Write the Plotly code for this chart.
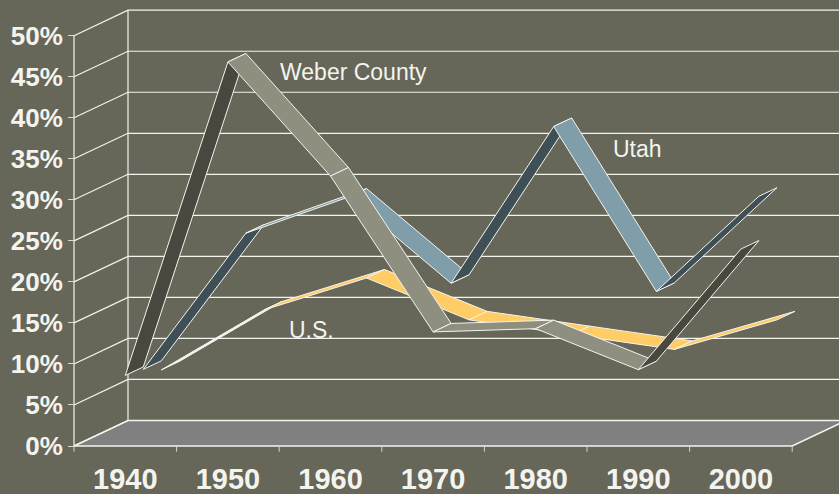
import plotly.graph_objects as go

years = ["1940", "1950", "1960", "1970", "1980", "1990", "2000"]
weber = [8.6, 46.8, 32.9, 13.9, 14.3, 9.3, 24.0]
utah = [8.3, 24.9, 29.3, 18.8, 37.9, 17.8, 29.4]
us = [7.2, 14.5, 18.4, 13.3, 11.5, 9.7, 13.3]
pct_ticks = [0, 5, 10, 15, 20, 25, 30, 35, 40, 45, 50]

W, H = 839, 494
CAT_PX = 102.6
PCT_PX = 8.206
FRONT_X = 74.0
FRONT_Y = 446.0
STEP_X = 18.0 / CAT_PX      # one series of depth, in category units
STEP_Y = 8.5 / PCT_PX       # one series of depth, in percent units
BG = "#666659"
EDGE = "#f4f4ee"


def poly(xs, ys, fill=None, color=EDGE, width=1):
    return go.Scatter(
        x=xs, y=ys, mode="lines", hoverinfo="skip", showlegend=False,
        line=dict(color=color, width=width),
        fill="toself" if fill else None, fillcolor=fill,
    )


def depth(c, v, z):
    return c + z * STEP_X, v + z * STEP_Y


fig = go.Figure()
left, right = -0.5, len(years) - 0.5
back = 3

# floor
fx, fy = zip(*[depth(left, 0, 0), depth(left, 0, back), depth(right, 0, back), depth(right, 0, 0)])
fig.add_trace(poly(list(fx) + [fx[0]], list(fy) + [fy[0]], fill="#808080", width=1.5))

# walls: gridlines
for t in pct_ticks:
    a = depth(left, t, 0)
    b = depth(left, t, back)
    c = depth(right, t, back)
    fig.add_trace(poly([a[0], b[0], c[0]], [a[1], b[1], c[1]], color=EDGE, width=1.2))
# wall verticals
a, b = depth(left, 0, back), depth(left, pct_ticks[-1], back)
fig.add_trace(poly([a[0], b[0]], [a[1], b[1]], width=1.2))
fig.add_trace(poly([left, left], [0, pct_ticks[-1]], width=1.2))
# category tick marks
for i in range(len(years) + 1):
    fig.add_trace(poly([left + i, left + i], [0, -0.7], width=1, color="#d8d8d0"))

# ribbons, back series first, each drawn left to right
series = [
    (us, 2, "#ffcc66", EDGE),
    (utah, 1, "#7f9ea9", "#3f4f56"),
    (weber, 0, "#8f8f80", "#48483f"),
]
for values, z, light, dark in series:
    for i in range(len(values) - 1):
        x0, y0 = depth(i, values[i], z)
        x1, y1 = depth(i, values[i], z + 1)
        x2, y2 = depth(i + 1, values[i + 1], z + 1)
        x3, y3 = depth(i + 1, values[i + 1], z)
        run_px = (x3 - x0) * CAT_PX
        rise_px = (y3 - y0) * PCT_PX
        under = rise_px / run_px > (STEP_Y * PCT_PX) / (STEP_X * CAT_PX)
        fig.add_trace(poly([x0, x1, x2, x3, x0], [y0, y1, y2, y3, y0],
                           fill=dark if under else light))

x_lo = left - FRONT_X / CAT_PX
x_hi = left + (W - FRONT_X) / CAT_PX
y_lo = (FRONT_Y - H) / PCT_PX
y_hi = FRONT_Y / PCT_PX

label = dict(xref="paper", yref="paper", showarrow=False, xanchor="center",
             yanchor="middle", font=dict(size=23, family="Liberation Sans", color="#f4f4ee"))

fig.update_layout(
    width=W, height=H,
    margin=dict(l=0, r=0, t=0, b=0),
    paper_bgcolor=BG, plot_bgcolor=BG,
    font=dict(family="Liberation Sans", color="#f4f4ee"),
    showlegend=False,
    xaxis=dict(
        range=[x_lo, x_hi], showgrid=False, zeroline=False, showline=False,
        tickmode="array", tickvals=list(range(len(years))), ticktext=years,
        ticks="", anchor="free", position=(H - FRONT_Y) / H,
        tickfont=dict(size=29, family="Liberation Sans", color="#f4f4ee", weight="bold"),
        ticklabelstandoff=13,
    ),
    yaxis=dict(
        range=[y_lo, y_hi], showgrid=False, zeroline=False, showline=False,
        tickmode="array", tickvals=pct_ticks, ticktext=[f"{t}%" for t in pct_ticks],
        ticks="outside", ticklen=6, tickcolor="#d8d8d0", tickwidth=1,
        anchor="free", position=FRONT_X / W,
        tickfont=dict(size=26, family="Liberation Sans", color="#f4f4ee", weight="bold"),
    ),
    annotations=[
        dict(text="Weber County", x=353 / W, y=1 - 72 / H, **label),
        dict(text="Utah", x=637 / W, y=1 - 149 / H, **label),
        dict(text="U.S.", x=311 / W, y=1 - 330 / H, **label),
    ],
)

fig.write_html("out.html", config=dict(displayModeBar=False),
               post_script="document.body.style.margin='0';")
